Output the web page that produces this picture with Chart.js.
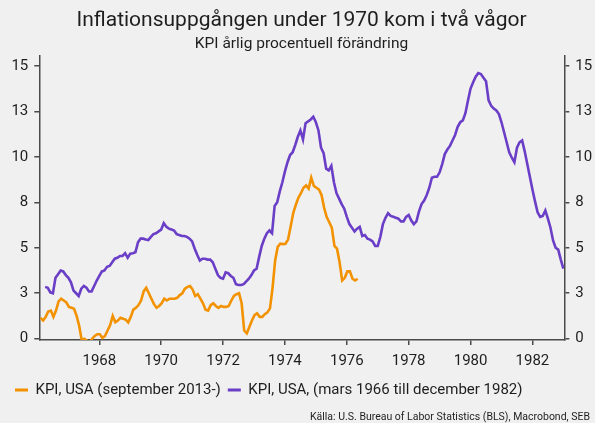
<!DOCTYPE html>
<html>
<head>
<meta charset="utf-8">
<script src="https://cdn.jsdelivr.net/npm/chart.js@4"></script>
<style>
  html, body { margin: 0; padding: 0; background: #f0f0f0; }
  #wrap { width: 595px; height: 423px; }
</style>
</head>
<body>
<div id="wrap"><canvas id="chart" width="595" height="423"></canvas></div>
<script>
// texts
const titleText = "Inflationsuppgången under 1970 kom i två vågor";
const subtitleText = "KPI årlig procentuell förändring";
const sourceText = "Källa: U.S. Bureau of Labor Statistics (BLS), Macrobond, SEB";
const orangeLabel = "KPI, USA (september 2013-)";
const purpleLabel = "KPI, USA, (mars 1966 till december 1982)";

// axis ticks
const yTicks = [0, 2.5, 5, 7.5, 10, 12.5, 15];
const xTicks = [1968, 1970, 1972, 1974, 1976, 1978, 1980, 1982];

// where the first month of each series sits on the time axis
const purpleStart = 1966 + 3 / 12;   // mars 1966
const orangeStart = 1966 + 1.2 / 12; // september 2013, laid over 1966

// KPI USA, monthly yoy %, mars 1966 - december 1982
const purple1966 = [2.85, 2.8, 2.55, 2.5, 3.35, 3.55, 3.75, 3.7, 3.5, 3.35];
const purple1967 = [3.1, 2.65, 2.5, 2.35, 2.75, 2.9, 2.8, 2.6, 2.6, 2.9, 3.2, 3.45];
const purple1968 = [3.7, 3.75, 3.95, 4.0, 4.2, 4.4, 4.45, 4.55, 4.55, 4.7, 4.45, 4.68];
const purple1969 = [4.7, 4.75, 5.3, 5.5, 5.5, 5.45, 5.42, 5.6, 5.75, 5.8, 5.9, 6.0];
const purple1970 = [6.35, 6.15, 6.05, 6.0, 5.95, 5.75, 5.7, 5.65, 5.65, 5.6, 5.5, 5.35];
const purple1971 = [4.95, 4.6, 4.3, 4.4, 4.4, 4.35, 4.35, 4.2, 3.85, 3.5, 3.35, 3.3];
const purple1972 = [3.65, 3.6, 3.45, 3.35, 3.0, 2.95, 2.95, 3.0, 3.15, 3.3, 3.5, 3.75];
const purple1973 = [3.85, 4.5, 5.1, 5.5, 5.8, 5.95, 5.8, 7.3, 7.5, 8.1, 8.6, 9.2];
const purple1974 = [9.7, 10.1, 10.25, 10.65, 11.1, 11.45, 10.95, 11.85, 11.95, 12.05, 12.2, 11.9];
const purple1975 = [11.45, 10.5, 10.2, 9.35, 9.25, 9.5, 8.6, 8.0, 7.7, 7.4, 7.15, 6.7];
const purple1976 = [6.3, 6.1, 5.9, 6.05, 6.15, 5.65, 5.7, 5.5, 5.45, 5.35, 5.1, 5.1];
const purple1977 = [5.6, 6.3, 6.65, 6.9, 6.75, 6.7, 6.65, 6.6, 6.45, 6.45, 6.7, 6.8];
const purple1978 = [6.5, 6.3, 6.45, 7.0, 7.4, 7.6, 7.9, 8.3, 8.85, 8.9, 8.9, 9.15];
const purple1979 = [9.6, 10.15, 10.4, 10.6, 10.9, 11.2, 11.65, 11.9, 12.0, 12.4, 13.1, 13.75];
const purple1980 = [14.1, 14.4, 14.6, 14.55, 14.35, 14.15, 13.1, 12.8, 12.65, 12.55, 12.35, 11.9];
const purple1981 = [11.35, 10.8, 10.25, 9.95, 9.7, 10.5, 10.8, 10.9, 10.3, 9.6, 8.9, 8.2];
const purple1982 = [7.55, 6.95, 6.7, 6.75, 7.05, 6.6, 6.1, 5.4, 5.0, 4.9, 4.35, 3.85];

// KPI USA, monthly yoy %, september 2013 - december 2023
const orange2013 = [1.15, 1.0, 1.2, 1.5];
const orange2014 = [1.55, 1.2, 1.55, 2.05, 2.2, 2.1, 2.0, 1.75, 1.7, 1.65, 1.25, 0.7];
const orange2015 = [-0.1, 0.0, -0.1, -0.2, 0.0, 0.15, 0.25, 0.25, 0.05, 0.15, 0.45, 0.75];
const orange2016 = [1.25, 0.9, 1.0, 1.15, 1.1, 1.05, 0.9, 1.2, 1.6, 1.7, 1.85, 2.1];
const orange2017 = [2.6, 2.8, 2.5, 2.2, 1.9, 1.7, 1.8, 1.95, 2.2, 2.1, 2.2, 2.2];
const orange2018 = [2.2, 2.25, 2.4, 2.5, 2.75, 2.85, 2.9, 2.7, 2.35, 2.45, 2.2, 1.95];
const orange2019 = [1.6, 1.55, 1.85, 1.95, 1.8, 1.7, 1.8, 1.75, 1.75, 1.8, 2.1, 2.35];
const orange2020 = [2.45, 2.5, 1.95, 0.45, 0.3, 0.65, 1.0, 1.3, 1.4, 1.2, 1.2, 1.35];
const orange2021 = [1.45, 1.67, 2.8, 4.3, 5.05, 5.23, 5.2, 5.22, 5.45, 6.15, 6.9, 7.35];
const orange2022 = [7.75, 8.0, 8.3, 8.43, 8.25, 8.85, 8.4, 8.3, 8.2, 7.9, 7.2, 6.69];
const orange2023 = [6.4, 6.1, 5.1, 4.95, 4.2, 3.2, 3.35, 3.7, 3.7, 3.3, 3.2, 3.3];

const purpleValues = [].concat(purple1966, purple1967, purple1968, purple1969, purple1970,
  purple1971, purple1972, purple1973, purple1974, purple1975, purple1976, purple1977,
  purple1978, purple1979, purple1980, purple1981, purple1982);
const orangeValues = [].concat(orange2013, orange2014, orange2015, orange2016, orange2017,
  orange2018, orange2019, orange2020, orange2021, orange2022, orange2023);

const toPoints = (values, start) => values.map((v, i) => ({ x: start + i / 12, y: v }));

const purple = "#6a3ec6";
const orange = "#f39200";
const axisColor = "#4a4a4a";
const textColor = "#1e1e1e";
const font = "Roboto";

// source line under the legend
const sourceNote = {
  id: "sourceNote",
  afterDraw(chart) {
    const { ctx } = chart;
    ctx.save();
    ctx.font = "10.5px " + font;
    ctx.fillStyle = textColor;
    ctx.textAlign = "right";
    ctx.textBaseline = "middle";
    ctx.fillText(sourceText, 590, 417);
    ctx.restore();
  },
};

const yAxis = (position, width) => ({
  type: "linear",
  position: position,
  min: -0.07,
  max: 15.58,
  afterBuildTicks: (scale) => { scale.ticks = yTicks.map((v) => ({ value: v })); },
  afterFit: (scale) => { scale.width = width; },
  ticks: {
    callback: (v) => Math.round(v),
    color: textColor,
    font: { family: font, size: 15 },
    padding: 6,
  },
  grid: { drawOnChartArea: false, color: axisColor, tickLength: 5, lineWidth: 1.5 },
  border: { color: axisColor, width: 1.5 },
});

new Chart(document.getElementById("chart"), {
  type: "line",
  data: {
    datasets: [
      {
        label: orangeLabel,
        data: toPoints(orangeValues, orangeStart),
        borderColor: orange,
        backgroundColor: orange,
        borderWidth: 2.6,
        pointRadius: 0,
        tension: 0,
        yAxisID: "y",
      },
      {
        label: purpleLabel,
        data: toPoints(purpleValues, purpleStart),
        borderColor: purple,
        backgroundColor: purple,
        borderWidth: 2.6,
        pointRadius: 0,
        tension: 0,
        yAxisID: "y",
      },
    ],
  },
  options: {
    responsive: false,
    animation: false,
    layout: { padding: { left: 8, bottom: 15.5 } },
    plugins: {
      title: {
        display: true,
        text: titleText,
        color: textColor,
        font: { family: font, size: 21, weight: "normal" },
        padding: { top: 8, bottom: 2 },
      },
      subtitle: {
        display: true,
        text: subtitleText,
        color: textColor,
        font: { family: font, size: 15.5 },
        padding: { top: 0, bottom: 1.5 },
      },
      legend: {
        position: "bottom",
        align: "start",
        labels: {
          boxWidth: 13,
          boxHeight: 3,
          padding: 7,
          color: textColor,
          font: { family: font, size: 15 },
          generateLabels: (chart) =>
            chart.data.datasets.map((ds, i) => ({
              text: ds.label,
              fillStyle: ds.borderColor,
              strokeStyle: ds.borderColor,
              lineWidth: 0,
              datasetIndex: i,
              fontColor: textColor,
            })),
        },
      },
      tooltip: { enabled: false },
    },
    scales: {
      x: {
        type: "linear",
        min: 1966.06,
        max: 1983.03,
        afterBuildTicks: (scale) => { scale.ticks = xTicks.map((v) => ({ value: v })); },
        afterFit: (scale) => { scale.height = 35.5; },
        ticks: {
          callback: (v) => String(v),
          color: textColor,
          font: { family: font, size: 15 },
          padding: 7,
          maxRotation: 0,
        },
        grid: { drawOnChartArea: false, color: axisColor, tickLength: 5, lineWidth: 1.5 },
        border: { color: axisColor, width: 1.5 },
      },
      y: yAxis("left", 31.3),
      y2: yAxis("right", 30.7),
    },
  },
  plugins: [sourceNote],
});
</script>
</body>
</html>
